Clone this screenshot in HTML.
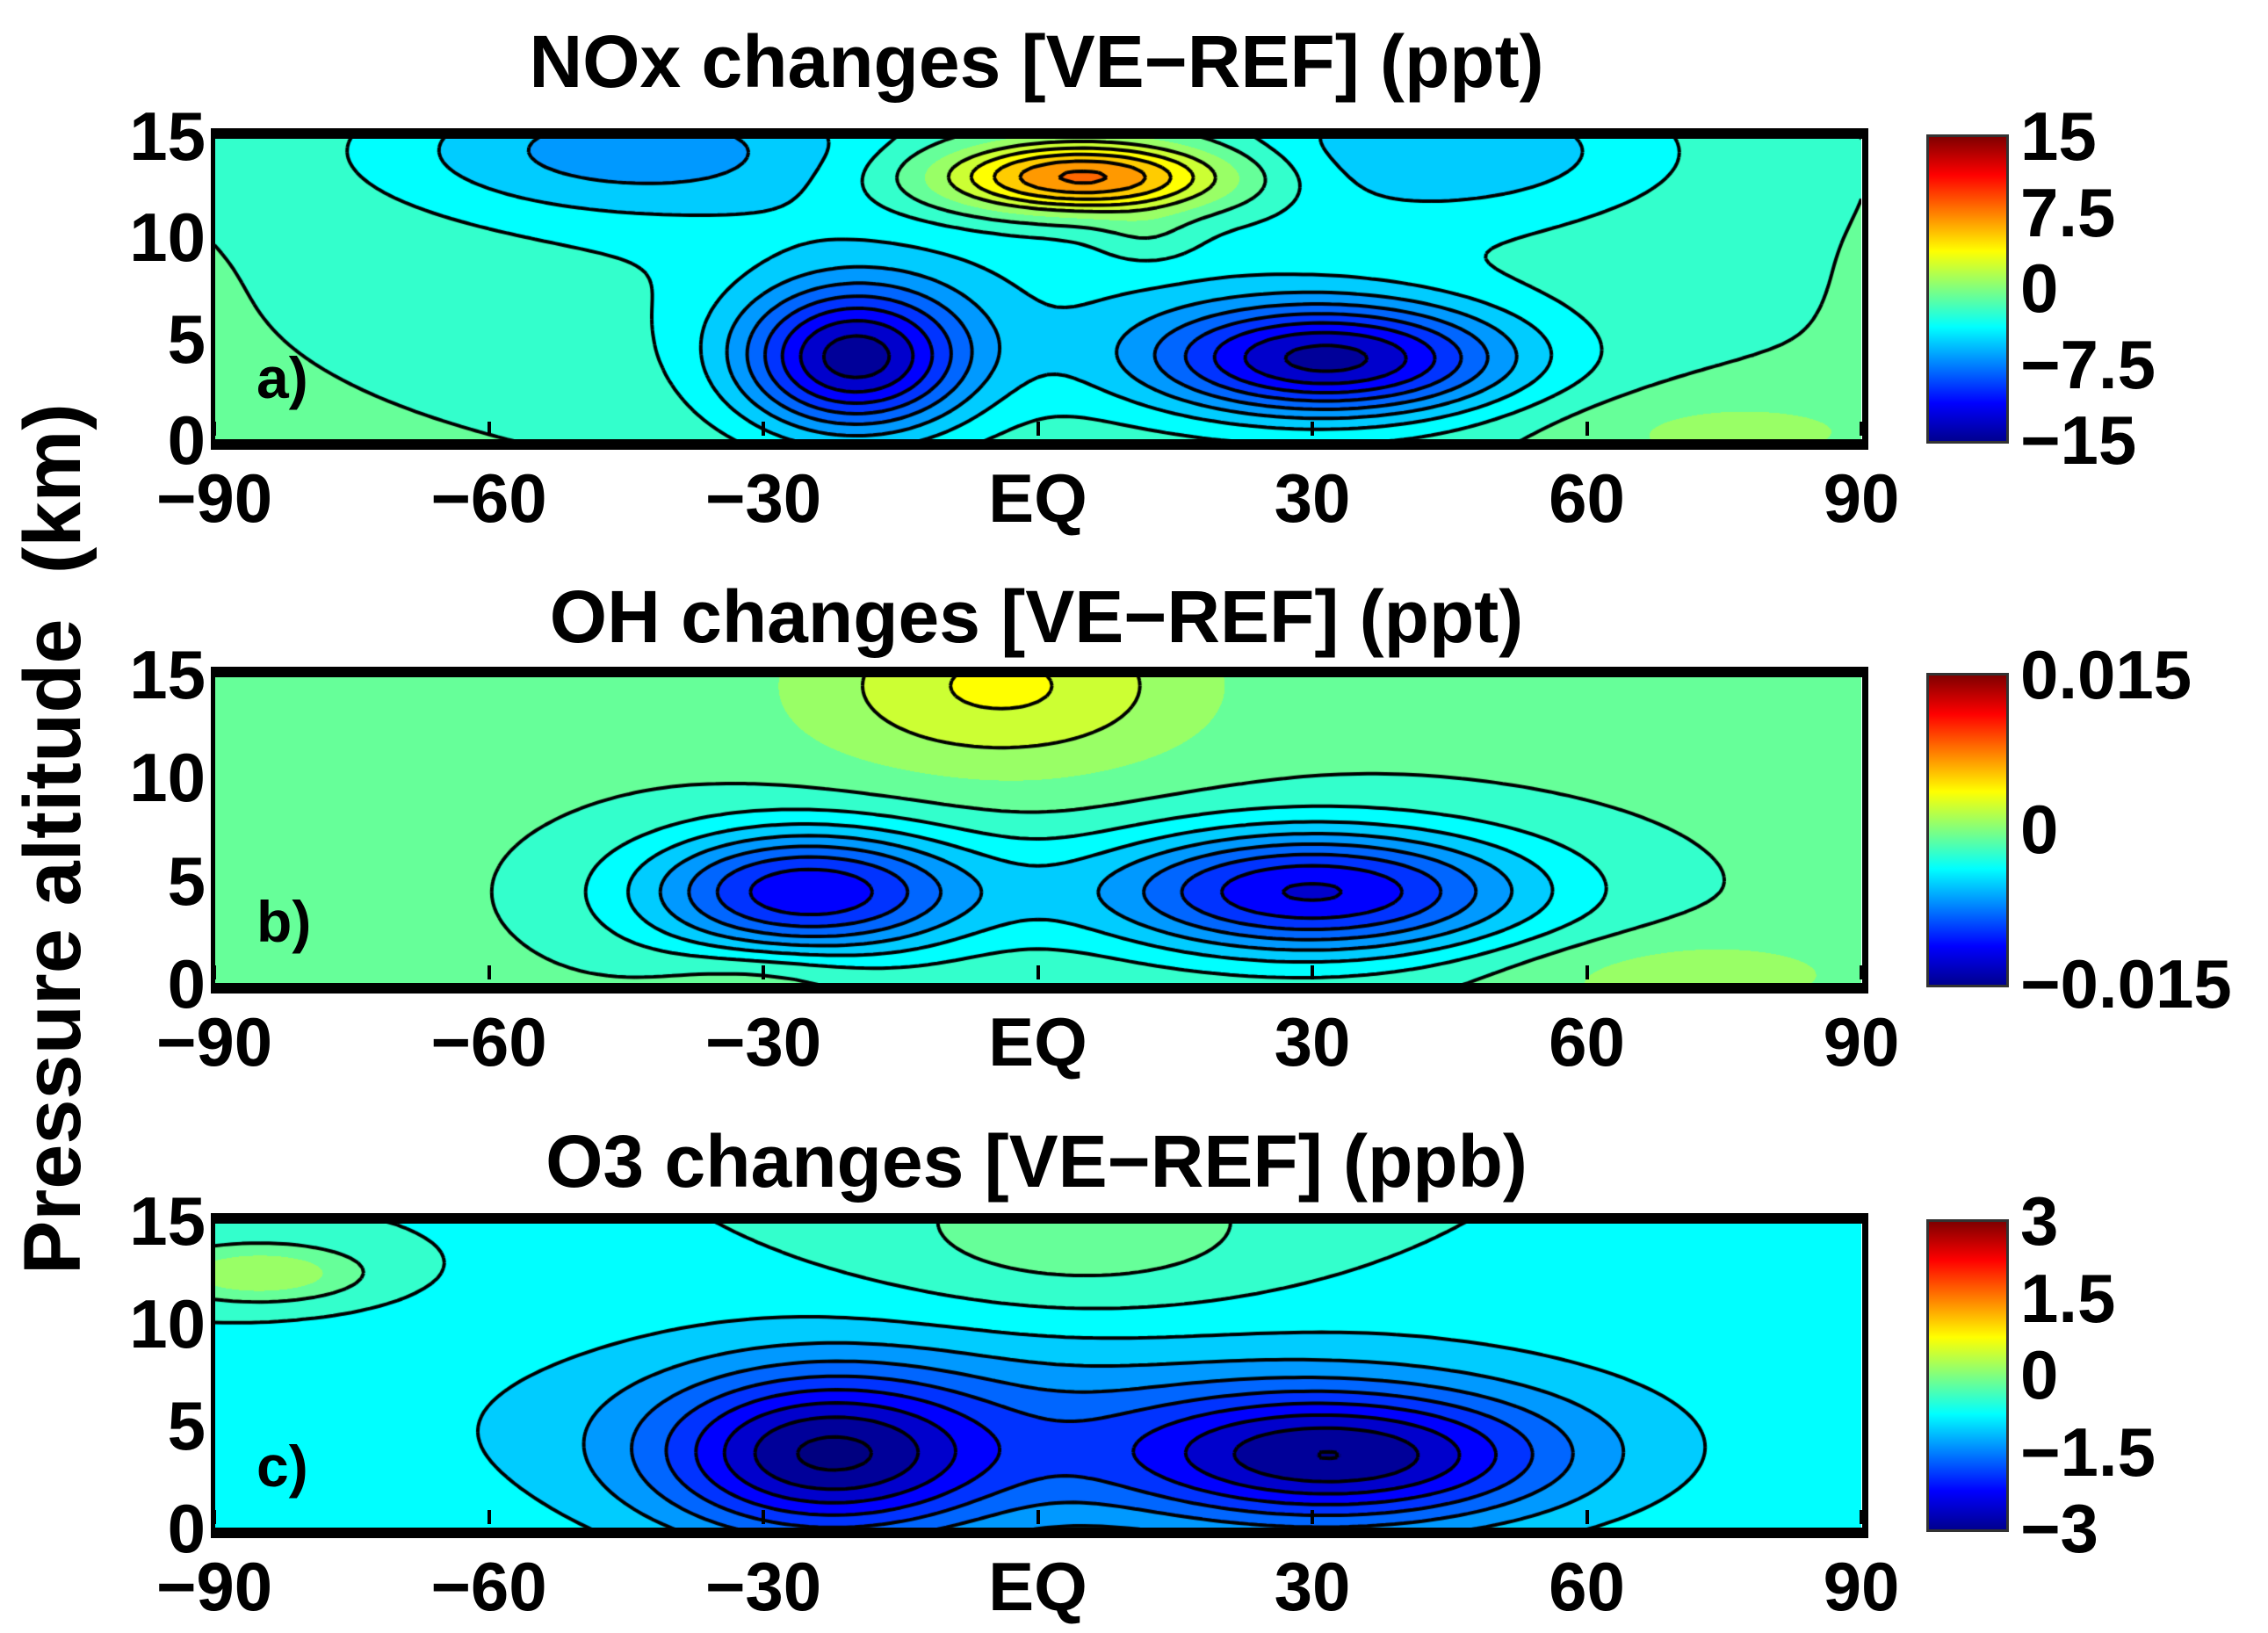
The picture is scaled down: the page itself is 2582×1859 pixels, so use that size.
<!DOCTYPE html>
<html><head><meta charset="utf-8">
<style>
body{margin:0;background:#fff;width:2582px;height:1859px;overflow:hidden;position:relative;font-family:"Liberation Sans",sans-serif;font-weight:bold;color:#000}
.t{position:absolute;white-space:nowrap;font-size:78px;line-height:1}
canvas{position:absolute}
.cb{position:absolute;border:3px solid #333;box-sizing:border-box}
</style></head><body>
<div class="t" style="left:60px;top:955px;transform:translate(-50%,-50%) rotate(-90deg);font-size:92px">Pressure altitude&nbsp; (km)</div>
<div id="root"></div>
<script>
// Panel data: blob centers (lat), altitudes (km), amplitudes, widths
const titles = ["NOx changes [VE\u2212REF] (ppt)","OH changes [VE\u2212REF] (ppt)","O3 changes [VE\u2212REF] (ppb)"];
const panelLetters = ["a)","b)","c)"];
const ranges = [15, 0.015, 3];
const cbTicks = [["15","7.5","0","\u22127.5","\u221215"],["0.015","0","\u22120.015"],["3","1.5","0","\u22121.5","\u22123"]];
const backgrounds = [-1.25, -0.0012, -0.6];
const blobLat = [[-20,32,-45,45,5,0,75,12],[-25,30,-4,70,-30],[-23,33,0,-85,5]];
const blobAlt = [[4,4,14.5,14.5,13,8,0.5,10],[4.5,4.5,14.5,0.5,0.5],[3.5,3.5,5,12.5,14.5]];
const blobAmp = [[-11.5,-11.5,-5,-4,11,-2.5,1.8,1.5],[-0.0105,-0.011,0.0045,0.002,0.0015],[-1.9,-1.9,-0.7,0.9,0.55]];
const blobSx = [[9,14,20,18,12,40,15,4],[13,17,15,15,8],[13,17,45,8,16]];
const blobSy = [[2.6,2,2.5,2.5,1.3,5,1.5,1],[2.2,2.2,3,1.5,1],[2.8,2.3,4,1,3]];
const xTicks = [-90,-60,-30,0,30,60,90];
const xTickLabels = ["\u221290","\u221260","\u221230","EQ","30","60","90"];
const yTicks = [0,5,10,15];

const panelTop=[156,769,1391], panelH=[346,352,350];
const PL=244, PR=2119, PW=PR-PL;
const titleY=[28,660,1280];
const root=document.getElementById('root');

function jet(t){t=Math.max(0,Math.min(1,t));
 const r=Math.max(0,Math.min(1,Math.min(4*t-1.5,-4*t+4.5)));
 const g=Math.max(0,Math.min(1,Math.min(4*t-0.5,-4*t+3.5)));
 const b=Math.max(0,Math.min(1,Math.min(4*t+0.5,-4*t+2.5)));
 return [r*255,g*255,b*255];}

function field(p,lat,alt){let v=backgrounds[p];
 for(let i=0;i<blobLat[p].length;i++){const dx=(lat-blobLat[p][i])/blobSx[p][i],dy=(alt-blobAlt[p][i])/blobSy[p][i];
  v+=blobAmp[p][i]*Math.exp(-(dx*dx+dy*dy)/2);}
 return v;}

for(let p=0;p<3;p++){
 const R=ranges[p], top=panelTop[p], H=panelH[p], step=R/10;
 const xs=lat=>PL+(lat+90)/180*PW, ys=a=>top+H-a/15*H;
 const tt=document.createElement('div');tt.className='t';
 
 
 tt.style.left='1180px';tt.style.top=titleY[p]+'px';tt.style.transform='translateX(-50%)';tt.style.fontSize='84px';tt.textContent=titles[p];root.appendChild(tt);
 const cv=document.createElement('canvas');cv.width=PW;cv.height=H;cv.style.left=PL+'px';cv.style.top=top+'px';
 
 
 root.appendChild(cv);const c=cv.getContext('2d');
 const img=c.createImageData(PW,H);
 for(let y=0;y<H;y++)for(let x=0;x<PW;x++){
  const v=field(p,-90+x/PW*180,15-y/H*15);
  const q=(Math.floor(v/step)+0.5)*step;
  const col=jet((q+R)/(2*R));const k=(y*PW+x)*4;
  img.data[k]=col[0];img.data[k+1]=col[1];img.data[k+2]=col[2];img.data[k+3]=255;}
 c.putImageData(img,0,0);
 const NX=180,NY=60,g=[];
 for(let j=0;j<=NY;j++){g[j]=[];for(let i=0;i<=NX;i++)g[j][i]=field(p,-90+i*180/NX,j*15/NY);}
 c.strokeStyle='#000';c.lineWidth=4;c.beginPath();
 const px=i=>i/NX*PW, py=j=>H-j/NY*H;
 for(let L=-R;L<=R;L+=step){if(Math.abs(L)<1e-9)continue;
  for(let j=0;j<NY;j++)for(let i=0;i<NX;i++){
   const a=g[j][i],b=g[j][i+1],cc=g[j+1][i+1],d=g[j+1][i];const pts=[];
   const e=(v1,v2,x1,y1,x2,y2)=>{if((v1<L)!==(v2<L)){const t=(L-v1)/(v2-v1);pts.push([px(x1+t*(x2-x1)),py(y1+t*(y2-y1))]);}};
   e(a,b,i,j,i+1,j);e(b,cc,i+1,j,i+1,j+1);e(cc,d,i+1,j+1,i,j+1);e(d,a,i,j+1,i,j);
   for(let s=0;s+1<pts.length;s+=2){c.moveTo(pts[s][0],pts[s][1]);c.lineTo(pts[s+1][0],pts[s+1][1]);}}}
 c.stroke();
 const fr=document.createElement('div');fr.style.cssText=`position:absolute;left:${PL-4}px;width:${PW}px;border:5px solid #000;border-top-width:12px;border-bottom-width:12px;border-right-width:7px`;
 
 
 fr.style.top=(top-10)+'px';fr.style.height=(H-4)+'px';root.appendChild(fr);
 xTicks.forEach((v,i)=>{const l=document.createElement('div');l.className='t';
  
  
  l.style.left=xs(v)+'px';l.style.top=(top+H+26)+'px';l.style.transform='translateX(-50%)';l.textContent=xTickLabels[i];root.appendChild(l);
  const tk=document.createElement('div');tk.style.cssText=`position:absolute;left:${xs(v)-2}px;top:${top+H-22}px;width:4px;height:16px;background:#000`;
  
  
  root.appendChild(tk);});
 yTicks.forEach(v=>{const l=document.createElement('div');l.className='t';
  
  
  l.style.right=(2582-PL+10)+'px';l.style.top=(ys(v)-40)+'px';l.textContent=v;root.appendChild(l);});
 const pl=document.createElement('div');pl.className='t';
 
 
 pl.style.left='292px';pl.style.top=(top+H-105)+'px';pl.style.fontSize='66px';pl.textContent=panelLetters[p];root.appendChild(pl);
 const cb=document.createElement('div');cb.className='cb';
 
 
 cb.style.left='2193px';cb.style.top=(top-3)+'px';cb.style.width='94px';cb.style.height=(H+6)+'px';
 cb.style.background='linear-gradient(to top,#00008f,#0000ff 12.5%,#00ffff 37.5%,#ffff00 62.5%,#ff0000 87.5%,#800000)';root.appendChild(cb);
 const tl=cbTicks[p];tl.forEach((s,i)=>{const l=document.createElement('div');l.className='t';
  
  
  l.style.left='2300px';l.style.top=(top+i/(tl.length-1)*H-40)+'px';l.textContent=s;root.appendChild(l);});
}
</script>
</body></html>
